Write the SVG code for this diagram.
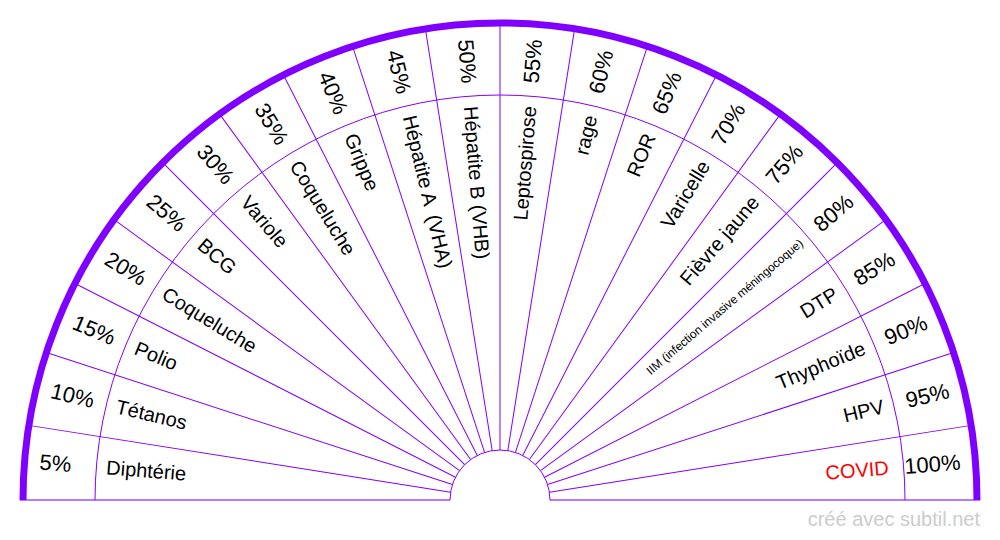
<svg xmlns="http://www.w3.org/2000/svg" width="1000" height="540" viewBox="0 0 1000 540">
<style>
  .spoke { stroke: #8000ff; stroke-width: 1; fill: none; }
  .arc { stroke: #8000ff; stroke-width: 1; fill: none; }
  .outer { stroke: #7f00ff; stroke-width: 7; fill: none; }
  .base { stroke: #b57bff; stroke-width: 2; fill: none; }
  .pct { font-family: "Liberation Sans", Arial, sans-serif; font-size: 22px; fill: #000; dominant-baseline: middle; }
  .lbl { font-family: "Liberation Sans", Arial, sans-serif; font-size: 20px; fill: #000; dominant-baseline: middle; }
  .small { font-size: 12px; }
  .red { fill: #ff0000; }
  .l { text-anchor: start; }
  .r { text-anchor: end; }
  .wm { font-family: "Liberation Sans", Arial, sans-serif; font-size: 20px; fill: #cccccc; text-anchor: end; }
</style>
<rect width="1000" height="540" fill="#ffffff"/>
<g id="connectors">
  <line class="base" x1="20" y1="500" x2="450" y2="500"/>
  <line class="base" x1="550" y1="500" x2="980" y2="500"/>
  <path class="arc" d="M 450 500 A 50 50 0 0 1 550 500"/>
  <path class="arc" d="M 95 500 A 405 405 0 0 1 905 500"/>
  <g class="spoke">
    <line x1="450" y1="500" x2="23" y2="500" transform="rotate(9 500 500)"/>
    <line x1="450" y1="500" x2="23" y2="500" transform="rotate(18 500 500)"/>
    <line x1="450" y1="500" x2="23" y2="500" transform="rotate(27 500 500)"/>
    <line x1="450" y1="500" x2="23" y2="500" transform="rotate(36 500 500)"/>
    <line x1="450" y1="500" x2="23" y2="500" transform="rotate(45 500 500)"/>
    <line x1="450" y1="500" x2="23" y2="500" transform="rotate(54 500 500)"/>
    <line x1="450" y1="500" x2="23" y2="500" transform="rotate(63 500 500)"/>
    <line x1="450" y1="500" x2="23" y2="500" transform="rotate(72 500 500)"/>
    <line x1="450" y1="500" x2="23" y2="500" transform="rotate(81 500 500)"/>
    <line x1="450" y1="500" x2="23" y2="500" transform="rotate(90 500 500)"/>
    <line x1="450" y1="500" x2="23" y2="500" transform="rotate(99 500 500)"/>
    <line x1="450" y1="500" x2="23" y2="500" transform="rotate(108 500 500)"/>
    <line x1="450" y1="500" x2="23" y2="500" transform="rotate(117 500 500)"/>
    <line x1="450" y1="500" x2="23" y2="500" transform="rotate(126 500 500)"/>
    <line x1="450" y1="500" x2="23" y2="500" transform="rotate(135 500 500)"/>
    <line x1="450" y1="500" x2="23" y2="500" transform="rotate(144 500 500)"/>
    <line x1="450" y1="500" x2="23" y2="500" transform="rotate(153 500 500)"/>
    <line x1="450" y1="500" x2="23" y2="500" transform="rotate(162 500 500)"/>
    <line x1="450" y1="500" x2="23" y2="500" transform="rotate(171 500 500)"/>
  </g>
  <path class="outer" d="M 23 500 A 477 477 0 0 1 977 500"/>
</g>

<g id="s01" transform="rotate(4.5 500 500)"><text class="pct l" x="38" y="500">5%</text><text class="lbl l" x="105" y="500">Diphtérie</text></g>
<g id="s02" transform="rotate(13.5 500 500)"><text class="pct l" x="38" y="500">10%</text><text class="lbl l" x="105" y="500">Tétanos</text></g>
<g id="s03" transform="rotate(22.5 500 500)"><text class="pct l" x="38" y="500">15%</text><text class="lbl l" x="105" y="500">Polio</text></g>
<g id="s04" transform="rotate(31.5 500 500)"><text class="pct l" x="38" y="500">20%</text><text class="lbl l" x="105" y="500">Coqueluche</text></g>
<g id="s05" transform="rotate(40.5 500 500)"><text class="pct l" x="38" y="500">25%</text><text class="lbl l" x="105" y="500">BCG</text></g>
<g id="s06" transform="rotate(49.5 500 500)"><text class="pct l" x="38" y="500">30%</text><text class="lbl l" x="105" y="500">Variole</text></g>
<g id="s07" transform="rotate(58.5 500 500)"><text class="pct l" x="38" y="500">35%</text><text class="lbl l" x="105" y="500">Coqueluche</text></g>
<g id="s08" transform="rotate(67.5 500 500)"><text class="pct l" x="38" y="500">40%</text><text class="lbl l" x="105" y="500">Grippe</text></g>
<g id="s09" transform="rotate(76.5 500 500)"><text class="pct l" x="38" y="500">45%</text><text class="lbl l" x="105" y="500" xml:space="preserve">Hépatite A  (VHA)</text></g>
<g id="s10" transform="rotate(85.5 500 500)"><text class="pct l" x="38" y="500">50%</text><text class="lbl l" x="105" y="500">Hépatite B (VHB)</text></g>
<g id="s11" transform="rotate(-85.5 500 500)"><text class="pct r" x="962" y="500">55%</text><text class="lbl r" x="895" y="500">Leptospirose</text></g>
<g id="s12" transform="rotate(-76.5 500 500)"><text class="pct r" x="962" y="500">60%</text><text class="lbl r" x="895" y="500">rage</text></g>
<g id="s13" transform="rotate(-67.5 500 500)"><text class="pct r" x="962" y="500">65%</text><text class="lbl r" x="895" y="500">ROR</text></g>
<g id="s14" transform="rotate(-58.5 500 500)"><text class="pct r" x="962" y="500">70%</text><text class="lbl r" x="895" y="500">Varicelle</text></g>
<g id="s15" transform="rotate(-49.5 500 500)"><text class="pct r" x="962" y="500">75%</text><text class="lbl r" x="895" y="500">Fièvre jaune</text></g>
<g id="s16" transform="rotate(-40.5 500 500)"><text class="pct r" x="962" y="500">80%</text><text class="lbl r small" x="897" y="500">IIM (infection invasive méningocoque)</text></g>
<g id="s17" transform="rotate(-31.5 500 500)"><text class="pct r" x="962" y="500">85%</text><text class="lbl r" x="895" y="500">DTP</text></g>
<g id="s18" transform="rotate(-22.5 500 500)"><text class="pct r" x="962" y="500">90%</text><text class="lbl r" x="895" y="500">Thyphoïde</text></g>
<g id="s19" transform="rotate(-13.5 500 500)"><text class="pct r" x="962" y="500">95%</text><text class="lbl r" x="895" y="500">HPV</text></g>
<g id="s20" transform="rotate(-4.5 500 500)"><text class="pct r" x="962" y="500">100%</text><text class="lbl r red" x="890" y="500">COVID</text></g>

<text class="wm" x="980" y="526">créé avec subtil.net</text>
</svg>
